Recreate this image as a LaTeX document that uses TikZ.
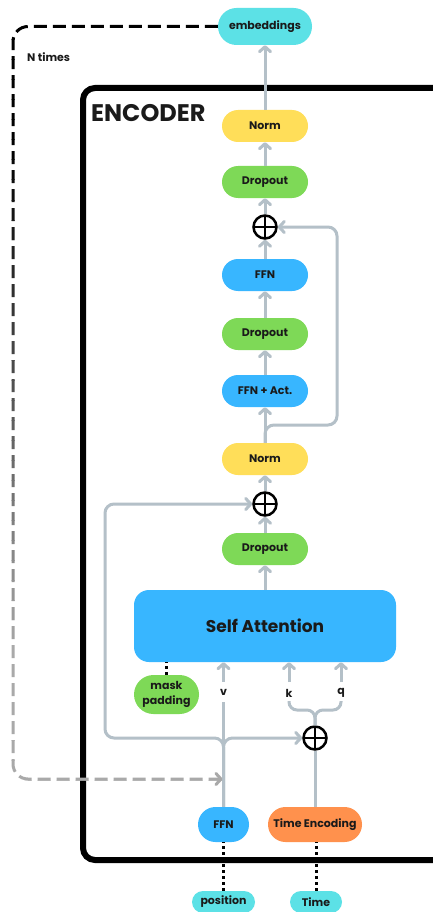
\documentclass[tikz,border=0pt]{standalone}
\usepackage{fontspec}
\setmainfont{Poppins}
\usetikzlibrary{arrows.meta}
\definecolor{flowc}{HTML}{B4C0C8}
\definecolor{cyanc}{HTML}{5CE1E6}
\definecolor{yellowc}{HTML}{FFDE59}
\definecolor{greenc}{HTML}{7ED957}
\definecolor{bluec}{HTML}{38B6FF}
\definecolor{orangec}{HTML}{FF914D}
\definecolor{dashgray}{HTML}{A9A9A9}
\definecolor{inkc}{HTML}{1A1A1A}
\begin{document}
\begin{tikzpicture}[x=1pt,y=-1pt,
  font=\bfseries\fontsize{11}{13}\selectfont, text=inkc,
  pill/.style={rectangle, rounded corners=16pt, inner sep=0pt,
    minimum width=86pt, minimum height=32pt, align=center},
  plusnode/.style={circle, draw=black, fill=white, line width=2.5pt,
    minimum size=23pt, inner sep=0pt,
    path picture={\draw[line width=2.5pt]
      (path picture bounding box.north) -- (path picture bounding box.south)
      (path picture bounding box.west) -- (path picture bounding box.east);}},
  flowline/.style={draw=flowc, line width=3pt, rounded corners=9pt},
  flow/.style={flowline, -{Straight Barb[round,length=5pt,width=11pt]}},
  dotline/.style={draw=black, line width=3pt, dash pattern=on 3pt off 3pt},
  ntimes/.style={line width=3pt, dash pattern=on 13pt off 6pt,
    rounded corners=15pt, -{Straight Barb[round,length=5pt,width=11pt]}},
  lbl/.style={fill=white, inner sep=1pt, minimum height=20pt}
]
\clip (0,0) rectangle (433,912);
\fill[white] (0,0) rectangle (433,912);

% encoder frame
\draw[line width=6pt, rounded corners=12pt] (480,88) -- (83,88) -- (83,860) -- (480,860);
\node[anchor=west, inner sep=0pt, font=\bfseries\fontsize{24}{27}\selectfont] (enc) at (91,113) {ENCODER};

% blocks
\node[pill, fill=cyanc, minimum width=94pt, minimum height=37pt, rounded corners=18.5pt] (emb) at (265,26.5) {embeddings};
\node[pill, fill=yellowc] (norm1) at (265,126) {Norm};
\node[pill, fill=greenc] (drop1) at (265,182) {Dropout};
\node[plusnode] (plus1) at (265,227) {};
\node[pill, fill=bluec] (ffn1) at (265,275) {FFN};
\node[pill, fill=greenc] (drop2) at (265,334) {Dropout};
\node[pill, fill=bluec] (ffnact) at (265,391) {FFN + Act.};
\node[pill, fill=yellowc] (norm2) at (265,459) {Norm};
\node[plusnode] (plus2) at (265,504) {};
\node[pill, fill=greenc] (drop3) at (265,549) {Dropout};
\node[pill, fill=bluec, minimum width=262pt, minimum height=72pt, rounded corners=15pt,
  font=\bfseries\fontsize{17}{20}\selectfont] (sa) at (265,626) {Self Attention};
\node[pill, fill=greenc, minimum width=65pt, minimum height=39pt, rounded corners=19.5pt,
  font=\bfseries\fontsize{11}{15}\selectfont] (mask) at (166.5,694.5) {mask\\padding};
\node[plusnode] (plus3) at (315,738) {};
\node[pill, fill=bluec, minimum width=51pt, minimum height=35pt, rounded corners=17.5pt] (ffn0) at (223.5,824.5) {FFN};
\node[pill, fill=orangec, minimum width=94pt, minimum height=35pt, rounded corners=17.5pt] (tenc) at (315,824.5) {Time Encoding};
\node[pill, fill=cyanc, minimum width=63pt, minimum height=22pt, rounded corners=11pt] (pos) at (223.5,902) {position};
\node[pill, fill=cyanc, minimum width=52pt, minimum height=22pt, rounded corners=11pt] (time) at (316,902) {Time};

\node[anchor=west, inner sep=0pt, font=\bfseries\fontsize{11}{13}\selectfont] (nt) at (27,57) {N times};

% waypoints
\coordinate (split) at (223.5,738);
\coordinate (lskip) at (105,738);
\coordinate (rskip) at (337,425);
\coordinate (kin) at (289,682);
\coordinate (qin) at (341,682);
\coordinate (kbr) at (289,701);
\coordinate (qbr) at (341,701);
\coordinate (brmid) at (315,710);
\coordinate (dtl) at (13,26.5);
\coordinate (dbl) at (13,779);
\coordinate (dend) at (223.5,779);

% main stack
\draw[flow] (norm1) -- (emb);
\draw[flow] (drop1) -- (norm1);
\draw[flow] (plus1) -- (drop1);
\draw[flow] (ffn1) -- (plus1);
\draw[flow] (drop2) -- (ffn1);
\draw[flow] (ffnact) -- (drop2);
\draw[flow] (norm2) -- (ffnact);
\draw[flow] (norm2.north) |- (rskip) |- (plus1.east);
\draw[flow] (plus2) -- (norm2);
\draw[flow] (drop3) -- (plus2);
\draw[flow] (sa) -- (drop3);

% inputs of the attention block
\draw[flow] (ffn0.north) -- (split) -- (lskip) |- (plus2.west);
\draw[flow] (ffn0.north) -- (split) -- (plus3.west);
\draw[flow] (ffn0.north) -- (ffn0.north |- sa.south);
\node[lbl] (v) at (223.5,692) {v};
\draw[flow] (kin) -- (kin |- sa.south);
\draw[flow] (qin) -- (qin |- sa.south);
\node (k) at (289,693) {k};
\node (q) at (341,693) {q};
\draw[flowline, rounded corners=8pt] (plus3.north) -- (brmid) -| (kbr);
\draw[flowline, rounded corners=8pt] (plus3.north) -- (brmid) -| (qbr);
\draw[flowline] (tenc.north) -- (plus3.south);

% dotted links
\draw[dotline] (mask.north) -- (mask.north |- sa.south);
\draw[dotline] (pos.north) -- (ffn0.south);
\draw[dotline] (time.north) -- (time.north |- tenc.south);

% repeat loop: dark at the top, fading to grey towards the bottom
\foreach \k in {0,...,45}{
  \pgfmathsetmacro\ya{\k*20}
  \pgfmathsetmacro\yb{\ya+20}
  \pgfmathtruncatemacro\pc{max(0,min(100,(\ya+10-150)/5))}
  \begin{scope}
    \clip (0,\ya) rectangle (250,\yb);
    \draw[ntimes, draw=dashgray!\pc!black, shorten >=1pt] (emb.west) -- (dtl) -- (dbl) -- (dend);
  \end{scope}
}
\end{tikzpicture}
\end{document}
